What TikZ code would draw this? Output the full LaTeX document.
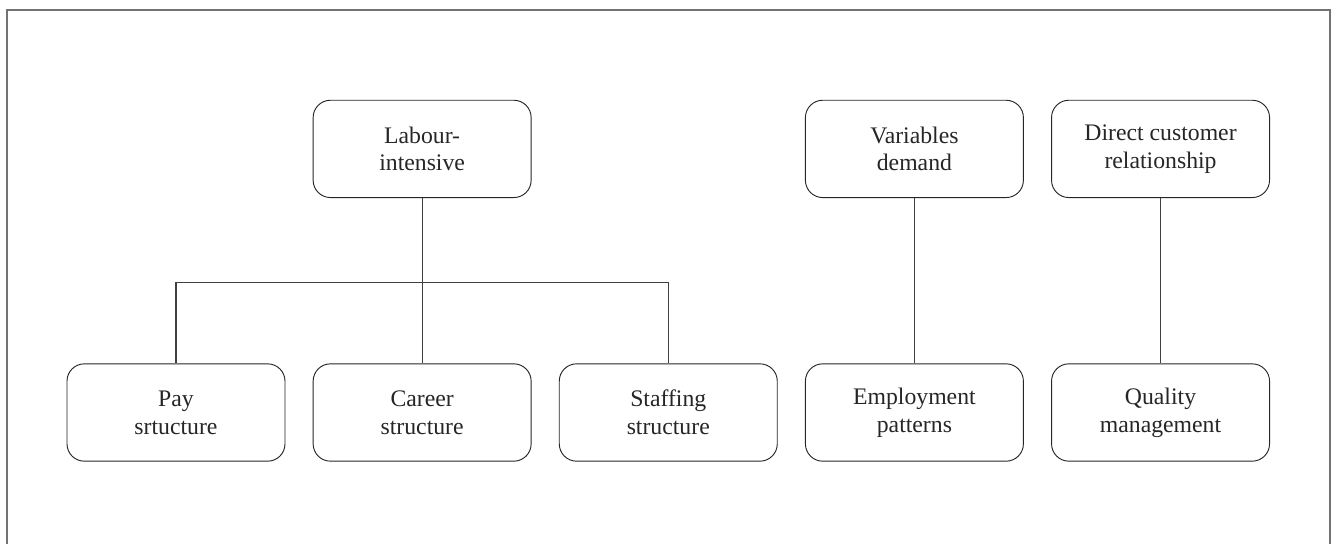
\documentclass[tikz,border=0pt]{standalone}
\usepackage{fontspec}
\setmainfont{Liberation Serif}
\usepackage{tikz}
\usetikzlibrary{calc, positioning}

\tikzset{
  box/.style={draw=black!85, line width=0.7pt, rounded corners=13pt,
    minimum width=163.5pt, minimum height=73pt, align=center,
    text=black!85, font=\fontsize{17.8}{20.8}\selectfont},
  link/.style={draw=black!75, line width=0.8pt}
}

\begin{document}
\begin{tikzpicture}[x=0.75pt, y=-0.75pt]
            % Khung ngoài
            \useasboundingbox (0,0) rectangle (1333,543);
            \draw[black!55, line width=1.5pt] (7,545) -- (7,10) -- (1330,10) -- (1330,545);

            % Hàng dưới
            \node[box] (pay) at (176,412.5) {Pay\\srtucture};
            \node[box, right=20.4pt of pay] (career) {Career\\structure};
            \node[box, right=20.4pt of career] (staff) {Staffing\\structure};
            \node[box, right=20.4pt of staff] (employ) {Employment\\patterns};
            \node[box, right=20.4pt of employ] (quality) {Quality\\management};

            % Hàng trên
            \node[box, above=124pt of career] (labour) {Labour-\\intensive};
            \node[box, above=124pt of employ] (demand) {Variables\\demand};
            \node[box, above=124pt of quality] (customer) {Direct customer\\relationship};

            % Đường nối
            \coordinate (fork) at ($(labour.south)!0.51!(career.north)$);
            \draw[link] (labour) -- (career);
            \draw[link] (pay.north) |- (fork) -| (staff.north);
            \draw[link] (demand) -- (employ);
            \draw[link] (customer) -- (quality);
        \end{tikzpicture}
\end{document}
